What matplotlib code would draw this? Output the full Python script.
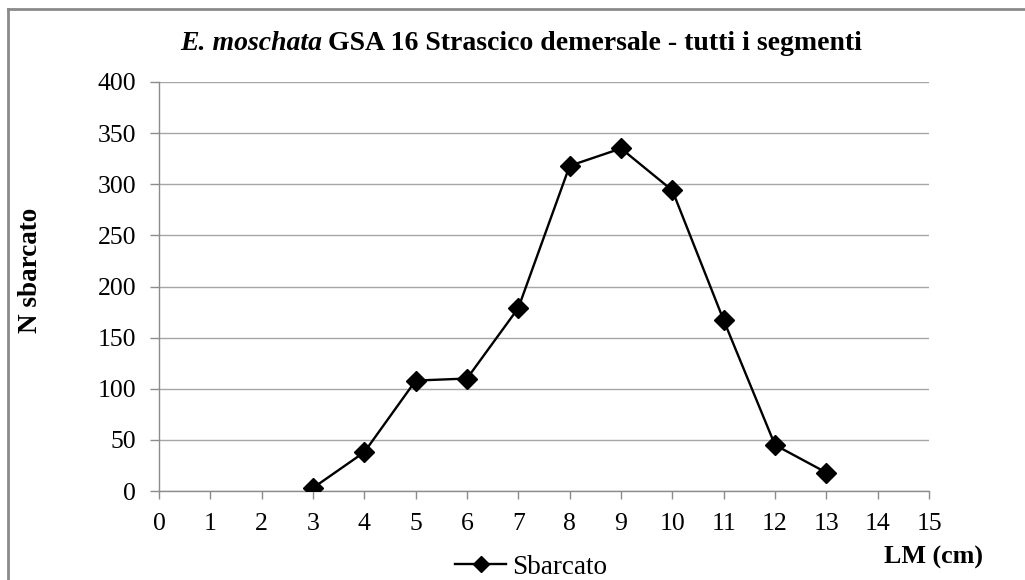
import matplotlib.pyplot as plt
from matplotlib.lines import Line2D

# length classes (cm) and landed numbers
lm_classes = [3, 4, 5, 6, 7, 8, 9, 10, 11, 12, 13]
n_landed = [3, 38, 108, 110, 179, 318, 335, 294, 167, 45, 18]

x_ticks = list(range(0, 16))
y_ticks = list(range(0, 401, 50))

GRID = "#a6a6a6"
SPINE = "#8c8c8c"
W, H = 1025, 580

plt.rcParams['font.family'] = ['Liberation Serif', 'DejaVu Serif']

fig = plt.figure(figsize=(W / 100, H / 100), dpi=100)
ax = fig.add_axes([159 / W, 1 - 491 / H, 770 / W, 409 / H])

ax.plot(lm_classes, n_landed, color="black", linewidth=1.7,
        marker="D", markersize=10.5, markerfacecolor="black",
        markeredgecolor="black", zorder=3)

ax.set_xlim(0, 15)
ax.set_ylim(0, 400)
ax.set_xticks(x_ticks)
ax.set_yticks(y_ticks)
ax.yaxis.grid(True, color=GRID, linewidth=1.0)
ax.set_axisbelow(True)

for side in ["top", "right"]:
    ax.spines[side].set_visible(False)
for side in ["left", "bottom"]:
    ax.spines[side].set_color(SPINE)
    ax.spines[side].set_linewidth(1.0)

ax.tick_params(axis="both", colors=SPINE, labelcolor="black",
               labelsize=18.5, width=1.0)
ax.tick_params(axis="y", length=6.5, pad=10)
ax.tick_params(axis="x", length=5.8, pad=10)

# title: italic species name followed by the bold description
t1 = fig.text(180 / W, 1 - 43 / H, "E. moschata", fontsize=20,
              fontweight="bold", fontstyle="italic", ha="left", va="center")
fig.canvas.draw()
bb = t1.get_window_extent()
fig.text((bb.x1 + 6) / W, 1 - 43 / H,
         "GSA 16 Strascico demersale - tutti i segmenti",
         fontsize=20, fontweight="bold", ha="left", va="center")

ax.set_ylabel("N sbarcato", fontsize=19.5, fontweight="bold")
ax.yaxis.set_label_coords(-116 / 770, (491 - 270) / 409)
fig.text(983 / W, 1 - 557 / H, "LM (cm)", fontsize=18.7,
         fontweight="bold", ha="right", va="center")

handle = Line2D([], [], color="black", linewidth=1.7, marker="D",
                markersize=8, markerfacecolor="black")
fig.legend([handle], ["Sbarcato"], loc="center left",
           bbox_to_anchor=(455 / W, 1 - 567 / H), frameon=False,
           fontsize=19.5, handlelength=1.9, handletextpad=0.22,
           borderpad=0, borderaxespad=0)

# outer chart frame (right and bottom edges fall outside the saved area)
fig.add_artist(Line2D([7.5 / W, 7.5 / W], [0, 1 - 9 / H],
                      color="#8a8a8a", linewidth=2.0))
fig.add_artist(Line2D([7.5 / W, 1], [1 - 9 / H, 1 - 9 / H],
                      color="#8a8a8a", linewidth=2.0))

fig.savefig("out.png", dpi=100)
